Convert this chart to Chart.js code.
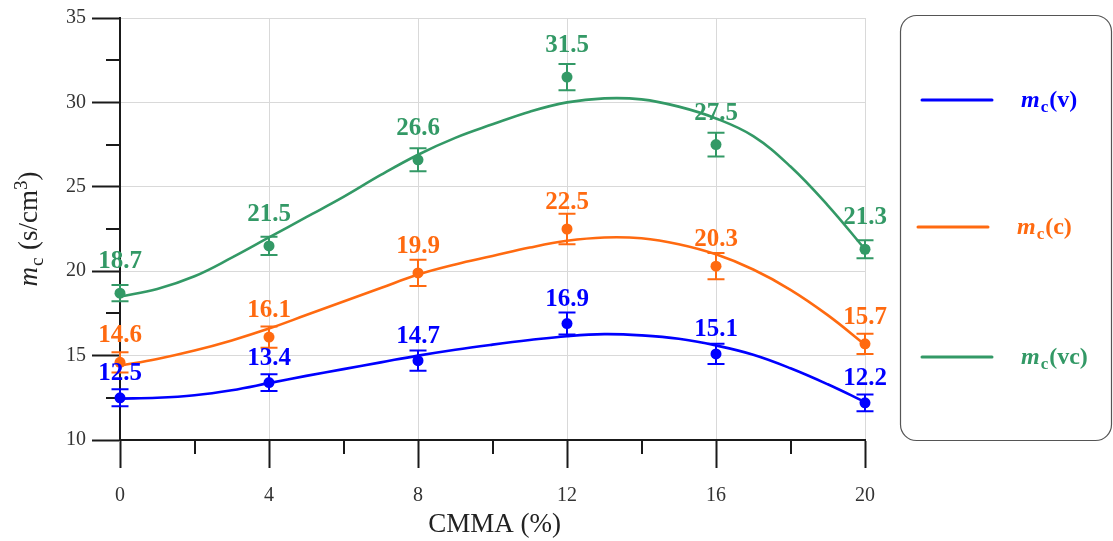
<!DOCTYPE html>
<html><head><meta charset="utf-8">
<script src="https://cdn.jsdelivr.net/npm/chart.js@4.4.1/dist/chart.umd.min.js"></script>
<style>html,body{margin:0;padding:0;background:#fff;}canvas{display:block;}</style>
</head><body>
<canvas id="c" width="1113" height="541"></canvas>
<script>
// ---- data ----
const xCats  = [0, 4, 8, 12, 16, 20];
const vVals  = [12.5, 13.4, 14.7, 16.9, 15.1, 12.2];
const cVals  = [14.6, 16.1, 19.9, 22.5, 20.3, 15.7];
const vcVals = [18.7, 21.5, 26.6, 31.5, 27.5, 21.3];
const vErr   = [0.5, 0.5, 0.6, 0.65, 0.6, 0.5];
const cErr   = [0.6, 0.63, 0.78, 0.9, 0.78, 0.6];
const vcErr  = [0.48, 0.54, 0.68, 0.78, 0.7, 0.53];
// fitted curves at each integer x
const fitX   = [0, 1, 2, 3, 4, 5, 6, 7, 8, 9, 10, 11, 12, 13, 14, 15, 16, 17, 18, 19, 20];
const vFit   = [12.45, 12.5, 12.65, 12.95, 13.37, 13.8, 14.2, 14.6, 15.0, 15.35, 15.65, 15.92, 16.15, 16.27, 16.2, 16.0, 15.6, 15.05, 14.25, 13.3, 12.25];
const cFit   = [14.4, 14.8, 15.3, 15.9, 16.6, 17.4, 18.2, 19.0, 19.8, 20.4, 20.9, 21.4, 21.8, 22.0, 21.95, 21.6, 21.0, 20.1, 18.9, 17.4, 15.65];
const vcFit  = [18.5, 18.95, 19.7, 20.8, 22.0, 23.2, 24.4, 25.7, 26.9, 27.9, 28.7, 29.45, 30.0, 30.24, 30.18, 29.75, 29.05, 28.0, 26.2, 23.9, 21.3];
const xTicks = [0, 4, 8, 12, 16, 20];
const xMinor = [2, 6, 10, 14, 18];
const yTicks = [10, 15, 20, 25, 30, 35];
const yMinor = [12.5, 17.5, 22.5, 27.5, 32.5];
const seriesNames = ['(v)', '(c)', '(vc)'];
const xTitle = 'CMMA (%)';

const BLUE = '#0000ff', ORANGE = '#ff6a10', GREEN = '#339966';
const SERIF = '"Liberation Serif", "DejaVu Serif", serif';

const series = [
  {vals: vVals, err: vErr, fit: vFit, color: BLUE, off: 18, name: seriesNames[0]},
  {vals: cVals, err: cErr, fit: cFit, color: ORANGE, off: 20, name: seriesNames[1]},
  {vals: vcVals, err: vcErr, fit: vcFit, color: GREEN, off: 25, name: seriesNames[2]},
];

const datasets = [];
series.forEach(s => {
  datasets.push({
    type: 'line',
    data: fitX.map((x, i) => ({x, y: s.fit[i]})),
    borderColor: s.color, borderWidth: 2.6, pointRadius: 0,
    tension: 0.4, fill: false, clip: false
  });
  datasets.push({
    type: 'line', showLine: false, clip: false,
    data: xCats.map((x, i) => ({x, y: s.vals[i]})),
    pointRadius: 5.5, pointBackgroundColor: s.color, pointBorderWidth: 0,
    borderColor: s.color
  });
});

function drawMc(ctx, x, y, suffix, color, size, bold, supText) {
  const w = bold ? 'bold ' : '';
  ctx.fillStyle = color;
  ctx.textAlign = 'left';
  ctx.textBaseline = 'alphabetic';
  ctx.font = 'italic ' + w + size + 'px ' + SERIF;
  ctx.fillText('m', x, y);
  x += ctx.measureText('m').width + 1;
  const sub = Math.round(size * 0.72);
  ctx.font = w + sub + 'px ' + SERIF;
  ctx.fillText('c', x, y + size * 0.22);
  x += ctx.measureText('c').width + 1;
  ctx.font = w + size + 'px ' + SERIF;
  ctx.fillText(suffix, x, y);
  x += ctx.measureText(suffix).width;
  if (supText) {
    ctx.font = w + sub + 'px ' + SERIF;
    ctx.fillText(supText[0], x, y - size * 0.38);
    x += ctx.measureText(supText[0]).width;
    ctx.font = w + size + 'px ' + SERIF;
    ctx.fillText(supText[1], x, y);
    x += ctx.measureText(supText[1]).width;
  }
  return x;
}
function measureMc(ctx, suffix, size, bold, supText) {
  const w = bold ? 'bold ' : '';
  let t = 0;
  ctx.font = 'italic ' + w + size + 'px ' + SERIF; t += ctx.measureText('m').width + 1;
  const sub = Math.round(size * 0.72);
  ctx.font = w + sub + 'px ' + SERIF; t += ctx.measureText('c').width + 1;
  ctx.font = w + size + 'px ' + SERIF; t += ctx.measureText(suffix).width;
  if (supText) {
    ctx.font = w + sub + 'px ' + SERIF; t += ctx.measureText(supText[0]).width;
    ctx.font = w + size + 'px ' + SERIF; t += ctx.measureText(supText[1]).width;
  }
  return t;
}

const deco = {
  id: 'deco',
  beforeDatasetsDraw(chart) {
    const ctx = chart.ctx, xs = chart.scales.x, ys = chart.scales.y;
    const a = chart.chartArea;
    ctx.save();
    ctx.strokeStyle = '#1a1a1a'; ctx.lineWidth = 2;
    xMinor.forEach(v => {
      const px = Math.round(xs.getPixelForValue(v));
      ctx.beginPath(); ctx.moveTo(px, a.bottom); ctx.lineTo(px, a.bottom + 14); ctx.stroke();
    });
    yMinor.forEach(v => {
      const py = Math.round(ys.getPixelForValue(v));
      ctx.beginPath(); ctx.moveTo(a.left, py); ctx.lineTo(a.left - 14, py); ctx.stroke();
    });
    // error bars
    series.forEach(s => {
      ctx.strokeStyle = s.color; ctx.lineWidth = 2;
      xCats.forEach((x, i) => {
        const px = xs.getPixelForValue(x);
        const t = ys.getPixelForValue(s.vals[i] + s.err[i]);
        const b = ys.getPixelForValue(s.vals[i] - s.err[i]);
        ctx.beginPath();
        ctx.moveTo(px, t); ctx.lineTo(px, b);
        ctx.moveTo(px - 8.5, t); ctx.lineTo(px + 8.5, t);
        ctx.moveTo(px - 8.5, b); ctx.lineTo(px + 8.5, b);
        ctx.stroke();
      });
    });
    ctx.restore();
  },
  afterDatasetsDraw(chart) {
    const ctx = chart.ctx, xs = chart.scales.x, ys = chart.scales.y;
    const a = chart.chartArea;
    ctx.save();
    // value labels
    series.forEach(s => {
      ctx.fillStyle = s.color;
      ctx.font = 'bold 25px ' + SERIF;
      ctx.textAlign = 'center'; ctx.textBaseline = 'alphabetic';
      xCats.forEach((x, i) => {
        ctx.fillText(s.vals[i].toFixed(1), xs.getPixelForValue(x), ys.getPixelForValue(s.vals[i]) - s.off);
      });
    });
    // x title
    ctx.fillStyle = '#222'; ctx.font = '27px ' + SERIF;
    ctx.textAlign = 'center'; ctx.textBaseline = 'alphabetic';
    ctx.fillText(xTitle, (a.left + a.right) / 2 + 2, 532);
    // y title
    ctx.save();
    ctx.translate(37, (a.top + a.bottom) / 2);
    ctx.rotate(-Math.PI / 2);
    const tw = measureMc(ctx, ' (s/cm', 27, false, ['3', ')']);
    drawMc(ctx, -tw / 2, 0, ' (s/cm', '#222', 27, false, ['3', ')']);
    ctx.restore();
    // legend box
    ctx.strokeStyle = '#555'; ctx.lineWidth = 1.2;
    ctx.beginPath();
    if (ctx.roundRect) ctx.roundRect(900.5, 15.5, 211, 425, 16); else ctx.rect(900.5, 15.5, 211, 425);
    ctx.stroke();
    const legY = [100, 227, 357];
    const legX = [[922, 992, 1021], [918, 988, 1017], [922, 992, 1021]];
    series.forEach((s, i) => {
      ctx.strokeStyle = s.color; ctx.lineWidth = 3; ctx.lineCap = 'round';
      ctx.beginPath(); ctx.moveTo(legX[i][0], legY[i]); ctx.lineTo(legX[i][1], legY[i]); ctx.stroke();
      drawMc(ctx, legX[i][2], legY[i] + 7, s.name, s.color, 24, true);
    });
    ctx.restore();
  }
};

new Chart(document.getElementById('c'), {
  data: {datasets},
  options: {
    responsive: false, animation: false,
    layout: {padding: {top: 15, right: 248, left: 0, bottom: 0}},
    plugins: {legend: {display: false}, tooltip: {enabled: false}},
    scales: {
      x: {
        type: 'linear', min: 0, max: 20,
        afterBuildTicks: s => { s.ticks = xTicks.map(v => ({value: v})); },
        afterFit: s => { s.height = 101; },
        grid: {color: '#d9d9d9', lineWidth: 1, tickLength: 28, tickColor: '#1a1a1a', tickWidth: 2},
        border: {display: true, color: '#1a1a1a', width: 2},
        ticks: {font: {family: SERIF, size: 20}, color: '#333', padding: 16, maxRotation: 0}
      },
      y: {
        type: 'linear', min: 10, max: 35,
        afterBuildTicks: s => { s.ticks = yTicks.map(v => ({value: v})); },
        afterFit: s => { s.width = 120; },
        grid: {color: '#d9d9d9', lineWidth: 1, tickLength: 28, tickColor: '#1a1a1a', tickWidth: 2},
        border: {display: true, color: '#1a1a1a', width: 2},
        ticks: {font: {family: SERIF, size: 20}, color: '#333', padding: 6}
      }
    }
  },
  plugins: [deco]
});
</script>
</body></html>
